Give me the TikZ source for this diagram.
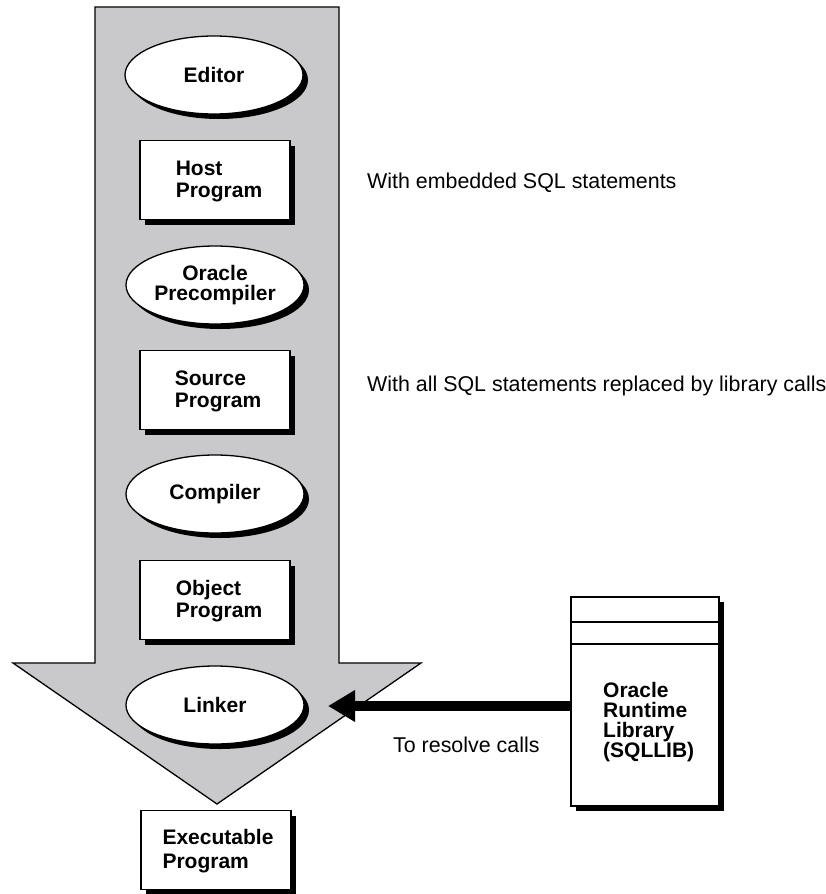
\documentclass[tikz,border=0pt]{standalone}
\usepackage{fontspec}
\setmainfont{Liberation Sans}
\usetikzlibrary{shapes.geometric,shadows,arrows.meta}
\definecolor{flowgray}{HTML}{C9C9CB}
\begin{document}
\begin{tikzpicture}[x=1pt,y=-1pt,
  shadowed/.style={drop shadow={shadow xshift=5pt, shadow yshift=-5pt, fill=black, opacity=1}},
  proc/.style={ellipse, draw, line width=1.3pt, fill=white, minimum width=178pt, minimum height=78pt,
    inner sep=0pt, align=center, font=\fontsize{21}{20}\selectfont\bfseries, shadowed},
  prog/.style={rectangle, draw, line width=1.3pt, fill=white, minimum width=150pt, minimum height=79pt,
    inner sep=0pt, align=left, font=\fontsize{21}{22}\selectfont\bfseries, shadowed},
  progtext/.style={inner sep=0pt, align=left, font=\fontsize{21}{22}\selectfont\bfseries},
  note/.style={anchor=base west, inner sep=0pt, font=\fontsize{21.4}{21.4}\selectfont}]
\useasboundingbox (0,0) rectangle (826,894);
% big flow arrow
\draw[line width=1.3pt, fill=flowgray] (95,7) -- (339,7) -- (339,663) -- (421,663) -- (217,804)
  -- (13,663) -- (95,663) -- cycle;
% steps
\node[proc] (editor) at (214,75) {Editor};
\node[prog] (host) at (215,180) {};
\node[progtext] (hostt) at (219,181) {Host\\Program};
\node[proc] (precomp) at (215,285) {Oracle\\Precompiler};
\node[prog] (source) at (215,390) {};
\node[progtext] (sourcet) at (218,391) {Source\\Program};
\node[proc] (compiler) at (215,494) {Compiler};
\node[prog] (object) at (215,600) {};
\node[progtext] (objectt) at (219,601) {Object\\Program};
\node[proc] (linker) at (215,705) {Linker};
\node[prog] (exec) at (216,850) {};
\node[progtext, font=\fontsize{21}{24}\selectfont\bfseries] (exect) at (218,851) {Executable\\Program};
% library
\node[rectangle, draw, line width=1.3pt, fill=white, minimum width=148pt, minimum height=209pt,
  inner sep=0pt, shadowed] (lib) at (645,701.5) {};
\draw[line width=1.3pt] (lib.west |- 0,622) -- (lib.east |- 0,622);
\draw[line width=1.3pt] (lib.west |- 0,644) -- (lib.east |- 0,644);
\node[anchor=west, align=left, inner sep=0pt, font=\fontsize{21}{20}\selectfont\bfseries] (libtext)
  at (603,722) {Oracle\\Runtime\\Library\\(SQLLIB)};
% connector
\coordinate (tip) at (328,706);
\draw[line width=10pt, -{Triangle[length=27pt,width=30pt]}] (lib.west |- tip) -- (tip);
% notes
\node[note] (n1) at (367,188) {With embedded SQL statements};
\node[note] (n2) at (367,391) {With all SQL statements replaced by library calls};
\node[note] (n3) at (393,752) {To resolve calls};
\end{tikzpicture}
\end{document}
